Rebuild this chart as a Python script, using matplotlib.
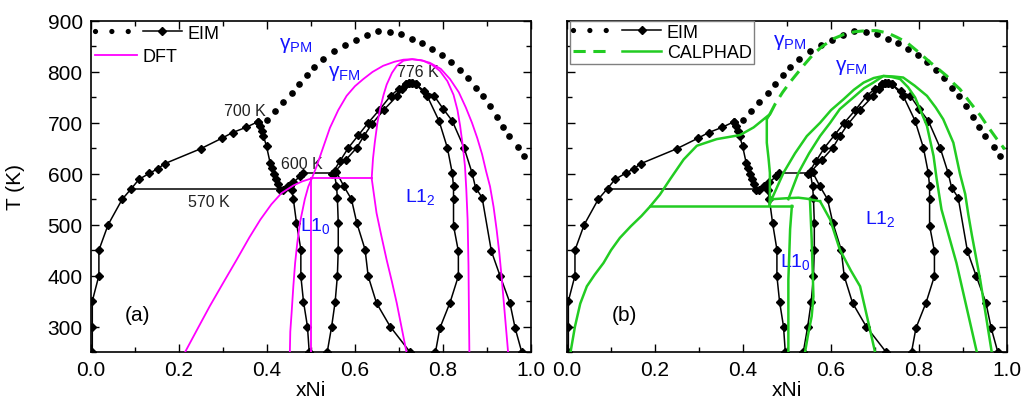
import matplotlib
matplotlib.use('Agg')
import matplotlib.pyplot as plt
from matplotlib.lines import Line2D
from matplotlib.legend_handler import HandlerTuple
from matplotlib.ticker import MultipleLocator

plt.rcParams['font.family'] = ['Liberation Sans', 'DejaVu Sans']
plt.rcParams['mathtext.fontset'] = 'custom'
plt.rcParams['mathtext.rm'] = 'Liberation Sans'
plt.rcParams['mathtext.it'] = 'Liberation Sans:italic'
plt.rcParams['mathtext.default'] = 'rm'

# ---- EIM (black, both panels) ----
pm_x = [0.399, 0.418, 0.436, 0.456, 0.473, 0.490, 0.507, 0.527, 0.552, 0.577, 0.602, 0.627, 0.652, 0.680,
        0.705, 0.730, 0.752, 0.775, 0.797, 0.818, 0.839, 0.856, 0.874, 0.891, 0.907, 0.922, 0.936, 0.950,
        0.970, 0.984]
pm_T = [705, 723, 741, 758, 776, 794, 810, 825, 842, 853, 863, 872, 880, 878,
        874, 865, 857, 845, 834, 820, 804, 788, 768, 752, 733, 711, 692, 674,
        653, 635]

alpha_x = [0.003, 0.003, 0.003, 0.018, 0.018, 0.039, 0.071, 0.092, 0.109, 0.133, 0.152, 0.168, 0.249,
           0.298, 0.322, 0.352, 0.379]
alpha_T = [250, 300, 350, 400, 450, 500, 550, 571, 589, 601, 610, 620, 649, 670, 681, 691, 702]

gamma_x = [0.379, 0.384, 0.388, 0.392, 0.399, 0.407, 0.411, 0.415, 0.420, 0.426, 0.430, 0.437, 0.448,
           0.460, 0.475, 0.482]
gamma_T = [702, 694, 684, 674, 654, 622, 612, 599, 589, 579, 569, 569, 576, 583, 595, 601]

l10_left_x = [0.452, 0.456, 0.460, 0.467, 0.477, 0.477, 0.483, 0.492, 0.496]
l10_left_T = [575, 569, 550, 504, 451, 399, 349, 300, 250]

l10_right_x = [0.553, 0.558, 0.560, 0.562, 0.562, 0.560, 0.555, 0.547, 0.537]
l10_right_T = [601, 576, 553, 504, 451, 399, 349, 300, 250]

l12_left_x = [0.558, 0.575, 0.592, 0.604, 0.623, 0.630, 0.649, 0.680, 0.725]
l12_left_T = [603, 575, 550, 504, 451, 399, 346, 300, 250]

outer_x = [0.547, 0.566, 0.585, 0.608, 0.630, 0.655, 0.681, 0.700, 0.715, 0.722, 0.730, 0.738, 0.758,
           0.780, 0.800, 0.821, 0.848, 0.866, 0.874, 0.889, 0.910, 0.930, 0.952, 0.964, 0.979]
outer_T = [599, 625, 651, 676, 700, 725, 753, 767, 776, 778, 778, 776, 762,
           753, 728, 704, 651, 602, 573, 553, 448, 399, 347, 297, 250]

inner_x = [0.555, 0.580, 0.604, 0.620, 0.638, 0.665, 0.696, 0.708, 0.715, 0.722, 0.730, 0.738, 0.764,
           0.791, 0.810, 0.821, 0.824, 0.824, 0.824, 0.835, 0.835, 0.816, 0.793, 0.783]
inner_T = [605, 628, 651, 674, 697, 725, 753, 767, 776, 778, 778, 776, 753,
           704, 651, 602, 575, 550, 498, 448, 399, 347, 297, 250]

line570_x = [0.092, 0.437]
line570_T = [571, 571]
line600_x = [0.475, 0.551]
line600_T = [601, 601]

# ---- DFT (magenta, panel a) ----
dft_outer_x = [0.214, 0.245, 0.270, 0.300, 0.331, 0.360, 0.385, 0.410, 0.433, 0.460, 0.480, 0.502,
               0.513, 0.527, 0.543, 0.562, 0.581, 0.600, 0.619, 0.640, 0.664, 0.690, 0.710, 0.730,
               0.750, 0.770, 0.795, 0.816, 0.836, 0.852, 0.866, 0.878, 0.889, 0.898, 0.907, 0.915,
               0.922, 0.928, 0.933, 0.938, 0.943, 0.948]
dft_outer_T = [250, 300, 340, 385, 431, 475, 510, 540, 562, 577, 585, 591,
               615, 650, 690, 725, 753, 772, 786, 800, 812, 820, 824, 825,
               823, 818, 806, 786, 760, 730, 700, 670, 638, 605, 575, 535,
               490, 445, 400, 350, 300, 250]

dft_inner_x = [0.638, 0.641, 0.645, 0.651, 0.657, 0.665, 0.672, 0.684, 0.695, 0.710, 0.730, 0.755,
               0.775, 0.793, 0.810, 0.824, 0.833, 0.839, 0.845, 0.850, 0.853, 0.856, 0.858, 0.859, 0.860]
dft_inner_T = [591, 630, 661, 700, 727, 755, 775, 798, 812, 822, 825, 822,
               814, 802, 782, 755, 725, 694, 655, 615, 570, 510, 420, 330, 250]

dft_l10_left_x = [0.452, 0.453, 0.456, 0.460, 0.464, 0.469, 0.475, 0.486, 0.494, 0.502]
dft_l10_left_T = [250, 290, 327, 380, 425, 465, 504, 550, 575, 591]

dft_l10_right_x = [0.501, 0.501]
dft_l10_right_T = [591, 250]

dft_tie_x = [0.501, 0.638]
dft_tie_T = [591, 591]

dft_l12_left_x = [0.638, 0.643, 0.649, 0.660, 0.672, 0.684, 0.695, 0.706, 0.717]
dft_l12_left_T = [591, 560, 523, 478, 431, 388, 346, 298, 250]

# ---- CALPHAD (green, panel b) ----
cal_alpha_x = [0.008, 0.018, 0.030, 0.045, 0.063, 0.083, 0.100, 0.120, 0.145, 0.169, 0.189, 0.211,
               0.234, 0.265, 0.295, 0.340, 0.393, 0.424, 0.461, 0.454, 0.454, 0.458, 0.461, 0.461, 0.460]
cal_alpha_T = [250, 300, 345, 379, 402, 425, 450, 474, 497, 517, 536, 559,
               589, 628, 655, 668, 676, 691, 717, 707, 661, 630, 602, 556, 538]

cal_eut_x = [0.189, 0.511]
cal_eut_T = [537, 537]

cal_step_x = [0.460, 0.465, 0.500, 0.526, 0.545, 0.575]
cal_step_T = [538, 550, 552, 553, 551, 546]

cal_l10_left_x = [0.511, 0.507, 0.505, 0.503, 0.503]
cal_l10_left_T = [537, 491, 440, 392, 250]

cal_l10_right_x = [0.552, 0.556, 0.560, 0.556, 0.548, 0.541]
cal_l10_right_T = [551, 471, 359, 320, 285, 250]

cal_l12_left_x = [0.575, 0.598, 0.620, 0.645, 0.666, 0.683, 0.700]
cal_l12_left_T = [546, 510, 451, 410, 379, 315, 250]

cal_outer_x = [0.465, 0.478, 0.492, 0.518, 0.545, 0.575, 0.600, 0.628, 0.652, 0.674, 0.697, 0.719,
               0.742, 0.764, 0.790, 0.818, 0.838, 0.855, 0.878, 0.893, 0.905, 0.912, 0.920, 0.939, 0.965]
cal_outer_T = [550, 575, 602, 640, 674, 700, 725, 746, 765, 779, 788, 792,
               791, 789, 773, 753, 730, 707, 661, 600, 560, 520, 480, 392, 251]

cal_inner_x = [0.503, 0.514, 0.526, 0.550, 0.575, 0.598, 0.620, 0.651, 0.675, 0.696, 0.719, 0.738,
               0.757, 0.775, 0.791, 0.818, 0.833, 0.840, 0.851, 0.885, 0.931]
cal_inner_T = [550, 575, 602, 640, 674, 700, 727, 750, 768, 779, 792, 790,
               786, 770, 750, 694, 635, 590, 530, 425, 251]

cal_pm_x = [0.461, 0.473, 0.490, 0.507, 0.522, 0.540, 0.560, 0.580, 0.605, 0.630, 0.655, 0.680,
            0.704, 0.730, 0.750, 0.772, 0.800, 0.825, 0.845, 0.863, 0.878, 0.893, 0.916, 0.939,
            0.957, 0.977, 0.995]
cal_pm_T = [717, 737, 760, 780, 796, 815, 835, 850, 865, 874, 879, 881,
            881, 876, 868, 858, 838, 819, 805, 792, 778, 766, 740, 715,
            692, 668, 648]

BLUE = '#1414ff'
MAG = '#ff00ff'
GRN = '#22cc22'

fig = plt.figure(figsize=(10.28, 4.02), dpi=100)
ax_a = fig.add_axes([0.0885, 0.1219, 0.428, 0.8234])
ax_b = fig.add_axes([0.5516, 0.1219, 0.428, 0.8234])


def draw_eim(ax):
    ax.plot(pm_x, pm_T, linestyle='none', marker='o', ms=3.8, color='k', zorder=3)
    for xs, ts in [(alpha_x, alpha_T), (gamma_x, gamma_T), (l10_left_x, l10_left_T),
                   (l10_right_x, l10_right_T), (l12_left_x, l12_left_T),
                   (outer_x, outer_T), (inner_x, inner_T)]:
        ax.plot(xs, ts, '-', color='k', lw=1.1, marker='D', ms=4, zorder=3)
    ax.plot(line570_x, line570_T, '-', color='k', lw=1.1, zorder=3)
    ax.plot(line600_x, line600_T, '-', color='k', lw=1.1, zorder=3)


def style(ax):
    ax.set_xlim(0, 1.0)
    ax.set_ylim(250, 900)
    ax.xaxis.set_major_locator(MultipleLocator(0.2))
    ax.xaxis.set_minor_locator(MultipleLocator(0.1))
    ax.yaxis.set_major_locator(MultipleLocator(100))
    ax.yaxis.set_minor_locator(MultipleLocator(50))
    ax.tick_params(which='both', direction='in', top=True, right=True, labelsize=15, width=1)
    ax.tick_params(which='major', length=6, pad=6)
    ax.tick_params(which='minor', length=3.5)
    for s in ax.spines.values():
        s.set_linewidth(1.2)
    ax.set_xlabel('xNi', fontsize=15)
    ax.xaxis.set_label_coords(0.5, -0.085)


# panel (a)
draw_eim(ax_a)
for xs, ts in [(dft_outer_x, dft_outer_T), (dft_inner_x, dft_inner_T), (dft_l10_left_x, dft_l10_left_T),
               (dft_l10_right_x, dft_l10_right_T), (dft_tie_x, dft_tie_T), (dft_l12_left_x, dft_l12_left_T)]:
    ax_a.plot(xs, ts, '-', color=MAG, lw=1.3, zorder=4)
style(ax_a)
ax_a.set_ylabel('T (K)', fontsize=15)
ax_a.yaxis.set_label_coords(-0.15, 0.5)

ax_a.text(0.466, 853, r'$\gamma_{PM}$', color=BLUE, fontsize=15, ha='center', va='center')
ax_a.text(0.575, 798, r'$\gamma_{FM}$', color=BLUE, fontsize=15, ha='center', va='center')
ax_a.text(0.511, 500, r'L1$_0$', color=BLUE, fontsize=14, ha='center', va='center')
ax_a.text(0.748, 557, r'L1$_2$', color=BLUE, fontsize=14, ha='center', va='center')
ax_a.text(0.743, 800, '776 K', fontsize=11.5, ha='center', va='center', color='#222222')
ax_a.text(0.350, 725, '700 K', fontsize=11.5, ha='center', va='center', color='#222222')
ax_a.text(0.479, 620, '600 K', fontsize=11.5, ha='center', va='center', color='#222222')
ax_a.text(0.268, 545, '570 K', fontsize=11.5, ha='center', va='center', color='#222222')
ax_a.text(0.105, 323, '(a)', fontsize=15, ha='center', va='center')

dots_h = Line2D([], [], color='k', lw=3.8, linestyle=(0, (0.001, 3.1)), dash_capstyle='round')
eim_h = Line2D([], [], color='k', lw=1.1, marker='D', ms=4)
leg1 = ax_a.legend([(dots_h, eim_h)], ['EIM'], handler_map={tuple: HandlerTuple(ndivide=None, pad=0.55)},
                   loc='center left', bbox_to_anchor=(0.009, 0.963), frameon=False, fontsize=13,
                   handlelength=4.8, handletextpad=0.33, borderpad=0, borderaxespad=0, numpoints=1)
ax_a.add_artist(leg1)
dft_h = Line2D([], [], color=MAG, lw=1.3)
ax_a.legend([dft_h], ['DFT'], loc='center left', bbox_to_anchor=(0.009, 0.893), frameon=False,
            fontsize=13, handlelength=2.33, handletextpad=0.28, borderpad=0, borderaxespad=0)

# panel (b)
draw_eim(ax_b)
for xs, ts in [(cal_alpha_x, cal_alpha_T), (cal_eut_x, cal_eut_T), (cal_step_x, cal_step_T),
               (cal_l10_left_x, cal_l10_left_T), (cal_l10_right_x, cal_l10_right_T),
               (cal_l12_left_x, cal_l12_left_T), (cal_outer_x, cal_outer_T), (cal_inner_x, cal_inner_T)]:
    ax_b.plot(xs, ts, '-', color=GRN, lw=1.8, zorder=4)
ax_b.plot(cal_pm_x, cal_pm_T, color=GRN, lw=2.2, linestyle=(0, (4, 2.5)), zorder=4)
style(ax_b)
ax_b.tick_params(labelleft=False)

ax_b.text(0.505, 859, r'$\gamma_{PM}$', color=BLUE, fontsize=15, ha='center', va='center')
ax_b.text(0.645, 810, r'$\gamma_{FM}$', color=BLUE, fontsize=15, ha='center', va='center')
ax_b.text(0.711, 514, r'L1$_2$', color=BLUE, fontsize=14, ha='center', va='center')
ax_b.text(0.520, 428, r'L1$_0$', color=BLUE, fontsize=14, ha='center', va='center')
ax_b.text(0.130, 323, '(b)', fontsize=15, ha='center', va='center')

cal_dash_h = Line2D([], [], color=GRN, lw=2.2, linestyle=(0, (4, 2.5)))
cal_h = Line2D([], [], color=GRN, lw=1.8)
leg_b = ax_b.legend([(dots_h, eim_h), (cal_dash_h, cal_h)], ['EIM', 'CALPHAD'],
                    handler_map={tuple: HandlerTuple(ndivide=None, pad=0.55)},
                    loc='upper left', bbox_to_anchor=(0.007, 1.0), fontsize=13, handlelength=4.9,
                    handletextpad=0.3, borderpad=0.15, borderaxespad=0, labelspacing=0.2,
                    fancybox=False, edgecolor='#808080', framealpha=1, numpoints=1)
leg_b.get_frame().set_linewidth(1.0)

fig.savefig('out.png', dpi=100)
